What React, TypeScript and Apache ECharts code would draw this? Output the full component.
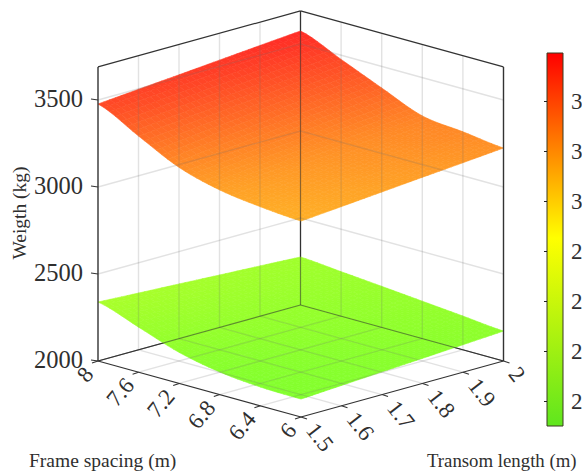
import React, { useEffect, useRef } from "react";
import * as echarts from "echarts";

const frameSpacing = [8, 7.6, 7.2, 6.8, 6.4, 6];
const transomLength = [1.5, 1.6, 1.7, 1.8, 1.9, 2];
const frameLabels = ["8", "7.6", "7.2", "6.8", "6.4", "6"];
const transomLabels = ["1.5", "1.6", "1.7", "1.8", "1.9", "2"];
const weightTicks = [2000, 2500, 3000, 3500];
const colorbarTicks = [2200, 2400, 2600, 2800, 3000, 3200, 3400];

// rows follow frameSpacing, columns follow transomLength
const upperWeight = [
  [3477, 3497, 3516, 3536, 3556, 3575],
  [3357, 3381, 3405, 3428, 3452, 3476],
  [3241, 3268, 3295, 3322, 3349, 3376],
  [3176, 3197, 3218, 3238, 3259, 3280],
  [3144, 3166, 3188, 3209, 3231, 3253],
  [3126, 3145, 3165, 3185, 3204, 3224],
];
const lowerWeight = [
  [2339, 2326, 2314, 2301, 2289, 2276],
  [2259, 2258, 2258, 2257, 2257, 2256],
  [2178, 2190, 2205, 2212, 2224, 2236],
  [2130, 2147, 2164, 2181, 2198, 2215],
  [2108, 2125, 2142, 2160, 2177, 2194],
  [2103, 2117, 2131, 2144, 2158, 2172],
];

const FONT = "'Liberation Serif', 'Times New Roman', serif";
const W_MIN = 2000;
const W_MAX = 3690;
const C_MIN = 2100;
const C_MID = 2852;
const C_MAX = 3592;
const SURFACE_ALPHA = 0.85;
const BOX = "#333333";
const TEXT = "#2f2f2f";

// oblique projection of the box to the page
function project(f: number, t: number, w: number): number[] {
  const u = (8 - f) / 2;
  const v = (t - 1.5) / 0.5;
  return [98 + 203 * u + 202.5 * v, 361 + 56 * u - 56 * v - (w - W_MIN) * 0.174];
}

function colorOf(w: number): number[] {
  const z = Math.max(C_MIN, Math.min(C_MAX, w));
  if (z < C_MID) {
    const k = (z - C_MIN) / (C_MID - C_MIN);
    return [108 + 147 * k, 255, 8 - 8 * k];
  }
  const k = (z - C_MID) / (C_MAX - C_MID);
  return [255, 255 * (1 - k), 0];
}
const rgb = (c: number[]) => `rgb(${Math.round(c[0])},${Math.round(c[1])},${Math.round(c[2])})`;
const mixed = (c: number[]) => c.map((x) => x * SURFACE_ALPHA + 255 * (1 - SURFACE_ALPHA));

const line = (a: number[], b: number[], stroke: string, lineWidth: number) => ({
  type: "line",
  shape: { x1: a[0], y1: a[1], x2: b[0], y2: b[1] },
  style: { stroke, lineWidth },
});

const label = (text: string, x: number, y: number, rotation: number, align: string, fontSize = 24.5) => ({
  type: "text",
  x,
  y,
  rotation,
  style: { text, fontFamily: FONT, fontSize, fill: TEXT, align, verticalAlign: "middle" },
});

// smooth rendering of a data column between two frame stations
function smoothAlongFrame(values: number[][], i: number, j: number, a: number) {
  const p0 = values[Math.max(i - 1, 0)][j];
  const p1 = values[i][j];
  const p2 = values[i + 1][j];
  const p3 = values[Math.min(i + 2, values.length - 1)][j];
  return (
    0.5 *
    (2 * p1 + (p2 - p0) * a + (2 * p0 - 5 * p1 + 4 * p2 - p3) * a * a + (3 * p1 - p0 - 3 * p2 + p3) * a * a * a)
  );
}

function surfaceSeries(values: number[][], z: number) {
  const cells: number[][] = [];
  for (let i = 0; i < 5; i++) for (let j = 0; j < 5; j++) cells.push([i, j]);
  const N = 7;
  return {
    type: "custom",
    coordinateSystem: "none",
    silent: true,
    z,
    data: cells,
    renderItem: (_p: any, api: any) => {
      const i = api.value(0);
      const j = api.value(1);
      const children: any[] = [];
      const at = (a: number, b: number) => {
        const w = smoothAlongFrame(values, i, j, a) * (1 - b) + smoothAlongFrame(values, i, j + 1, a) * b;
        const f = frameSpacing[i] + (frameSpacing[i + 1] - frameSpacing[i]) * a;
        const t = transomLength[j] + (transomLength[j + 1] - transomLength[j]) * b;
        return { w, p: project(f, t, w) };
      };
      for (let a = 0; a < N; a++) {
        for (let b = 0; b < N; b++) {
          const q = [at(a / N, b / N), at((a + 1) / N, b / N), at((a + 1) / N, (b + 1) / N), at(a / N, (b + 1) / N)];
          const c = rgb(mixed(colorOf((q[0].w + q[1].w + q[2].w + q[3].w) / 4)));
          children.push({
            type: "polygon",
            shape: { points: q.map((e) => e.p) },
            style: { fill: c, stroke: c, lineWidth: 0.6 },
          });
        }
      }
      return { type: "group", children };
    },
  };
}

function gridChildren(stroke: string) {
  const out: any[] = [];
  const zTop = W_MAX;
  frameSpacing.slice(1, 5).forEach((f) => {
    out.push(line(project(f, 2, W_MIN), project(f, 2, zTop), stroke, 1.4));
    out.push(line(project(f, 1.5, W_MIN), project(f, 2, W_MIN), stroke, 1.4));
  });
  transomLength.slice(1, 5).forEach((t) => {
    out.push(line(project(8, t, W_MIN), project(8, t, zTop), stroke, 1.4));
    out.push(line(project(8, t, W_MIN), project(6, t, W_MIN), stroke, 1.4));
  });
  weightTicks.slice(1).forEach((w) => {
    out.push(line(project(8, 1.5, w), project(8, 2, w), stroke, 1.4));
    out.push(line(project(8, 2, w), project(6, 2, w), stroke, 1.4));
  });
  return out;
}

function singleGroup(z: number, build: () => any[]) {
  return {
    type: "custom",
    coordinateSystem: "none",
    silent: true,
    z,
    data: [0],
    renderItem: () => ({ type: "group", children: build() }),
  };
}

function axisLabels() {
  const out: any[] = [];
  weightTicks.forEach((w) => {
    const p = project(8, 1.5, w);
    out.push(label(String(w), 83, p[1] - 2, 0, "right"));
  });
  frameSpacing.forEach((f, i) => {
    const p = project(f, 1.5, W_MIN);
    out.push(label(frameLabels[i], p[0] - 9, p[1] + 9, (50 * Math.PI) / 180, "right", 23));
  });
  transomLength.forEach((t, i) => {
    const p = project(6, t, W_MIN);
    out.push(label(transomLabels[i], p[0] + 10, p[1] + 9, (-52 * Math.PI) / 180, "left", 23));
  });
  return out;
}

function buildOption() {
  const backEdges = (stroke: string, lw: number) => [
    line(project(8, 2, W_MIN), project(8, 2, W_MAX), stroke, lw),
    line(project(8, 1.5, W_MIN), project(8, 2, W_MIN), stroke, lw),
    line(project(8, 2, W_MIN), project(6, 2, W_MIN), stroke, lw),
  ];
  const stops: any[] = [
    { offset: 0, color: rgb(colorOf(C_MAX)) },
    { offset: (C_MAX - C_MID) / (C_MAX - C_MIN), color: rgb(colorOf(C_MID)) },
    { offset: 1, color: "rgb(95,230,30)" },
  ];
  return {
    animation: false,
    backgroundColor: "#ffffff",
    grid: { left: 547, top: 53, width: 16, height: 373, containLabel: false, outerBoundsMode: "none" },
    xAxis: { type: "value", min: 0, max: 1, show: false },
    yAxis: {
      type: "value",
      position: "right",
      min: C_MIN,
      max: C_MAX,
      splitLine: { show: false },
      axisLine: { show: false },
      axisTick: { show: true, inside: true, length: 3, customValues: colorbarTicks, lineStyle: { color: "#222", width: 1 } },
      axisLabel: {
        show: true,
        customValues: colorbarTicks,
        margin: 8,
        fontFamily: FONT,
        fontSize: 23,
        color: TEXT,
        // only the leading digit fits inside the picture
        formatter: (v: number) => String(v).charAt(0),
      },
      z: 3,
    },
    graphic: [
      ...axisLabels(),
      { type: "text", x: 29, y: 460, style: { text: "Frame spacing (m)", fontFamily: FONT, fontSize: 19.5, fill: TEXT, verticalAlign: "middle" } },
      { type: "text", x: 427, y: 460, style: { text: "Transom length (m)", fontFamily: FONT, fontSize: 18.8, fill: TEXT, verticalAlign: "middle" } },
      { type: "text", x: 19, y: 213, rotation: Math.PI / 2, style: { text: "Weigth (kg)", fontFamily: FONT, fontSize: 19.5, fill: TEXT, align: "center", verticalAlign: "middle" } },
    ],
    series: [
      {
        type: "custom",
        coordinateSystem: "cartesian2d",
        silent: true,
        z: 1,
        data: [[0, C_MIN]],
        clip: false,
        renderItem: (_p: any, api: any) => {
          const a = api.coord([0, C_MAX]);
          const b = api.coord([1, C_MIN]);
          return {
            type: "rect",
            shape: { x: a[0], y: a[1], width: b[0] - a[0], height: b[1] - a[1] },
            style: {
              fill: new echarts.graphic.LinearGradient(0, 0, 0, 1, stops),
              stroke: "#3a3a20",
              lineWidth: 1,
            },
          };
        },
      },
      // back frame beneath the surfaces
      singleGroup(2, () => backEdges(BOX, 1.2)),
      surfaceSeries(lowerWeight, 3),
      surfaceSeries(upperWeight, 4),
      // grid lines are seen through the translucent surfaces
      singleGroup(5, () => gridChildren("rgba(110,110,110,0.2)")),
      singleGroup(6, () => backEdges("rgba(50,50,50,0.55)", 1.2)),
      singleGroup(7, () => {
        const out: any[] = [
          line(project(8, 1.5, W_MIN), project(8, 1.5, W_MAX), BOX, 1.4),
          line(project(6, 2, W_MIN), project(6, 2, W_MAX), BOX, 1.4),
          line(project(8, 1.5, W_MAX), project(8, 2, W_MAX), BOX, 1.2),
          line(project(8, 2, W_MAX), project(6, 2, W_MAX), BOX, 1.2),
          line(project(8, 1.5, W_MIN), project(6, 1.5, W_MIN), BOX, 1.2),
          line(project(6, 1.5, W_MIN), project(6, 2, W_MIN), BOX, 1.2),
        ];
        weightTicks.forEach((w) => {
          const p = project(8, 1.5, w);
          out.push(line([p[0] - 7, p[1] - 1], p, BOX, 1.1));
        });
        frameSpacing.forEach((f) => {
          const p = project(f, 1.5, W_MIN);
          out.push(line(p, [p[0] - 6, p[1] + 2], BOX, 1.1));
        });
        transomLength.forEach((t) => {
          const p = project(6, t, W_MIN);
          out.push(line(p, [p[0] + 6, p[1] + 2], BOX, 1.1));
        });
        return out;
      }),
    ],
  };
}

export default function App() {
  const ref = useRef<HTMLDivElement>(null);
  useEffect(() => {
    document.body.style.margin = "0";
    const chart = echarts.init(ref.current!, undefined, { renderer: "svg" });
    chart.setOption(buildOption() as any);
    return () => chart.dispose();
  }, []);
  return <div ref={ref} style={{ width: 582, height: 473 }} />;
}
